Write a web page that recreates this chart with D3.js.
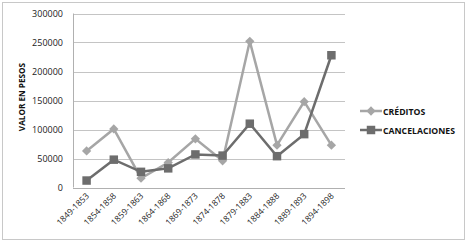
<!DOCTYPE html>
<html>
<head>
<meta charset="utf-8">
<script src="https://cdn.jsdelivr.net/npm/d3@7"></script>
<style>
  body { margin: 0; background: #fff; }
  text { font-family: "Open Sans", sans-serif; }
</style>
</head>
<body>
<script>
    var periodos = ["1849-1853","1854-1858","1859-1863","1864-1868","1869-1873",
                    "1874-1878","1879-1883","1884-1888","1889-1893","1894-1898"];
    var creditos = [63000, 101000, 16000, 43000, 84000, 46000, 252000, 73000, 148000, 73000];
    var cancelaciones = [12000, 48000, 27000, 33000, 57000, 55000, 110000, 54000, 92000, 228000];
    var yTicks = [0, 50000, 100000, 150000, 200000, 250000, 300000];

    var width = 466, height = 242;
    var plot = {left: 73, right: 345, top: 13.5, bottom: 187.5};

    var svg = d3.select("body")
    .append("svg").attr("width", width).attr("height", height)

    /* marco exterior */
    svg.append("rect")
    .attr("x", 2.5).attr("y", 2.5)
    .attr("width", 462).attr("height", 237)
    .style("fill", "none")
    .style("stroke", "#c8c8c8")
    .style("stroke-width", 1)

    var x = d3.scaleBand().domain(periodos).range([plot.left, plot.right]);
    var y = d3.scaleLinear().domain([0, 300000]).range([plot.bottom, plot.top]);

    /* grid */
    svg.append("g")
    .selectAll("line").data(yTicks).enter().append("line")
    .attr("x1", plot.left).attr("x2", plot.right)
    .attr("y1", function(d){ return Math.round(y(d)) + 0.5; })
    .attr("y2", function(d){ return Math.round(y(d)) + 0.5; })
    .style("stroke", function(d){ return d === 0 ? "#b0b0b0" : "#c4c4c4"; })
    .style("stroke-width", 1)

    svg.append("line")
    .attr("x1", plot.left + 0.5).attr("x2", plot.left + 0.5)
    .attr("y1", plot.top).attr("y2", plot.bottom)
    .style("stroke", "#b0b0b0")

    /* etiquetas eje y */
    svg.append("g")
    .selectAll("text").data(yTicks).enter().append("text")
    .attr("x", 63)
    .attr("y", function(d){ return y(d) + 3; })
    .attr("text-anchor", "end")
    .style("font-size", "9px")
    .style("fill", "#1a1a1a")
    .text(function(d){ return d; })

    /* etiquetas eje x */
    svg.append("g")
    .selectAll("text").data(periodos).enter().append("text")
    .attr("transform", function(d){
        return "translate(" + (x(d) + x.bandwidth()/2 + 3) + "," + (plot.bottom + 9) + ") rotate(-45)";
    })
    .attr("text-anchor", "end")
    .style("font-size", "8.5px")
    .style("fill", "#1a1a1a")
    .text(function(d){ return d; })

    /* titulo eje y */
    svg.append("text")
    .attr("transform", "translate(25,97) rotate(-90)")
    .attr("text-anchor", "middle")
    .style("font-size", "8.2px")
    .style("font-weight", "bold")
    .style("fill", "#111")
    .text("VALOR EN PESOS")

    var line = d3.line()
    .x(function(d, i){ return x(periodos[i]) + x.bandwidth()/2; })
    .y(function(d){ return y(d); })

    var colCred = "#a6a6a6", colCanc = "#6d6d6d";

    svg.append("path").datum(creditos)
    .attr("d", line)
    .style("fill", "none").style("stroke", colCred).style("stroke-width", 2.5)

    svg.append("path").datum(cancelaciones)
    .attr("d", line)
    .style("fill", "none").style("stroke", colCanc).style("stroke-width", 2.5)

    var diamond = d3.symbol().type(d3.symbolDiamond2).size(55);
    var square = d3.symbol().type(d3.symbolSquare).size(72);

    svg.append("g")
    .selectAll("path").data(creditos).enter().append("path")
    .attr("d", diamond)
    .attr("transform", function(d, i){
        return "translate(" + (x(periodos[i]) + x.bandwidth()/2) + "," + y(d) + ")";
    })
    .style("fill", colCred)

    svg.append("g")
    .selectAll("path").data(cancelaciones).enter().append("path")
    .attr("d", square)
    .attr("transform", function(d, i){
        return "translate(" + (x(periodos[i]) + x.bandwidth()/2) + "," + y(d) + ")";
    })
    .style("fill", colCanc)

    /* leyenda */
    var legend = [{name: "CRÉDITOS", color: colCred, sym: diamond, y: 111},
                  {name: "CANCELACIONES", color: colCanc, sym: square, y: 130}];

    var lg = svg.append("g").selectAll("g").data(legend).enter().append("g")
    .attr("transform", function(d){ return "translate(0," + d.y + ")"; })

    lg.append("line")
    .attr("x1", 360).attr("x2", 382)
    .style("stroke", function(d){ return d.color; })
    .style("stroke-width", 2.5)

    lg.append("path")
    .attr("d", function(d){ return d.sym(); })
    .attr("transform", "translate(371,0)")
    .style("fill", function(d){ return d.color; })

    lg.append("text")
    .attr("x", 383).attr("y", 3.5)
    .style("font-size", "8.7px")
    .style("font-weight", "bold")
    .style("fill", "#111")
    .text(function(d){ return d.name; })
</script>
</body>
</html>
